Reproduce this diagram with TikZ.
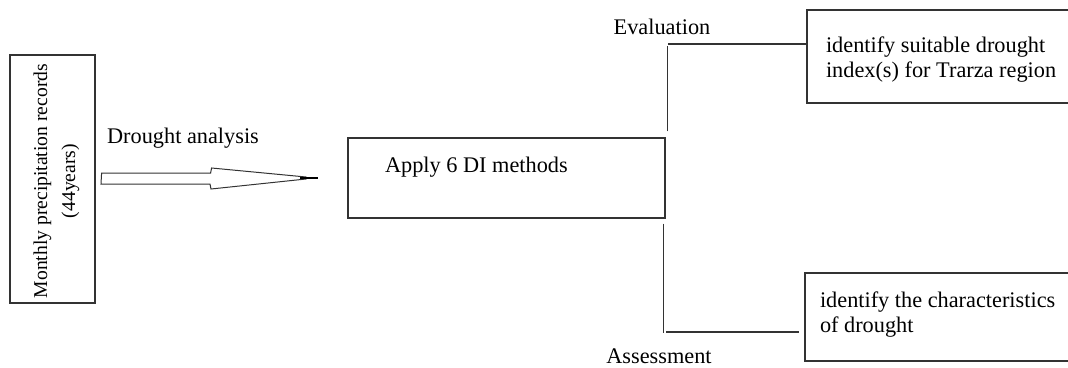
\documentclass[tikz,border=0pt]{standalone}
\usepackage{fontspec}
\setmainfont{Liberation Serif}
\usepackage{tikz}
\usetikzlibrary{positioning}

\begin{document}
\begin{tikzpicture}[x=1pt,y=-1pt,line width=1.2pt,
  box/.style={draw=black!80,rectangle,inner sep=0pt},
  lbl/.style={font=\fontsize{22.3}{25}\selectfont,inner sep=0pt,align=left},
  link/.style={draw=black!80,line width=1.1pt}]
\useasboundingbox (0,0) rectangle (1068,367);
% input box
\node[box,minimum width=85,minimum height=248](rec) at (52.5,179) {};
\node[rotate=90,align=center,inner sep=0pt,font=\fontsize{19.6}{28}\selectfont](rect)
   at ([xshift=4pt,yshift=-2pt]rec.center) {Monthly precipitation records\\(44years)};
% hollow arrow
\coordinate (arrs) at ([xshift=6pt]rec.east);
\draw[draw=black!80,line width=1pt] (arrs) ++(0,-6) -- ++(109,0) -- ++(1,-5) -- (306,177)
   -- (306,179) -- (211,189) -- ++(-1,-5) -- ++(-109,0) -- cycle;
\draw[line width=2pt] (300,178) -- (318,178);
\node[lbl](drt) at (183,138) {Drought analysis};
% methods
\node[box,minimum width=317,minimum height=80](apply) at (506.5,178) {};
\node[lbl,anchor=west](applyt) at ([xshift=37pt,yshift=-30pt]apply.north west) {Apply 6 DI methods};
% outcomes
\node[box,minimum width=268,minimum height=93](eval) at (941,56.5) {};
\node[lbl,anchor=west](evalt) at ([xshift=19pt,yshift=-3.5pt]eval.west) {identify suitable drought\\index(s) for Trarza region};
\node[box,minimum width=270,minimum height=88](assess) at (940,317) {};
\node[lbl,anchor=west](assesst) at ([xshift=15pt,yshift=2pt]assess.west) {identify the characteristics\\of drought};
\node[lbl](evl) at (662,27) {Evaluation};
\node[lbl](asl) at (659,356) {Assessment};
% links
\draw[link] ([xshift=2pt,yshift=6pt]apply.north east) -- ++(0,-85);
\draw[link] ([xshift=-138pt,yshift=12.5pt]eval.west) -- ([yshift=12.5pt]eval.west);
\draw[link] ([xshift=-2pt,yshift=-5pt]apply.south east) -- ++(0,109);
\draw[link] ([xshift=-138pt,yshift=-15pt]assess.west) -- ([xshift=-5pt,yshift=-15pt]assess.west);
\end{tikzpicture}
\end{document}
